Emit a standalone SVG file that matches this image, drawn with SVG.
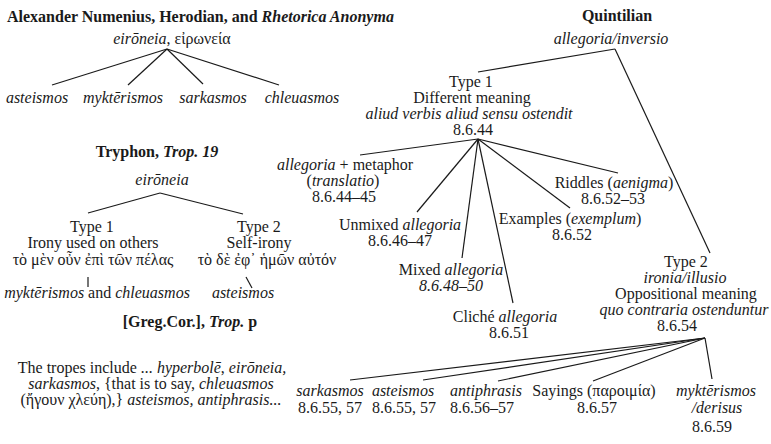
<svg xmlns="http://www.w3.org/2000/svg" width="771" height="444" viewBox="0 0 771 444">
<style>
text{font-family:"Liberation Serif","DejaVu Serif",serif;font-size:16px;fill:#1a1a1a}
.c{text-anchor:middle}
.b{font-weight:bold}
.i{font-style:italic}
.l line{stroke:#1a1a1a;stroke-width:1.2}
</style>
<rect width="771" height="444" fill="#fff"/>
<g class="l" id="connectors">
<line x1="167" y1="49" x2="52" y2="85"/>
<line x1="167" y1="49" x2="128" y2="85"/>
<line x1="167" y1="49" x2="203" y2="84"/>
<line x1="167" y1="49" x2="279" y2="85"/>
<line x1="160" y1="193" x2="88" y2="213"/>
<line x1="160" y1="193" x2="243" y2="214"/>
<line x1="88" y1="277" x2="88" y2="287"/>
<line x1="246" y1="277" x2="252" y2="288"/>
<line x1="615" y1="49" x2="478" y2="72"/>
<line x1="615" y1="49" x2="710" y2="253"/>
<line x1="478" y1="139" x2="360" y2="155"/>
<line x1="478" y1="139" x2="417" y2="212"/>
<line x1="478" y1="139" x2="462" y2="258"/>
<line x1="478" y1="139" x2="513" y2="303"/>
<line x1="478" y1="139" x2="570" y2="208"/>
<line x1="478" y1="139" x2="618" y2="173"/>
<line x1="705" y1="338" x2="350" y2="380"/>
<line x1="705" y1="338" x2="423" y2="380"/>
<line x1="705" y1="338" x2="498" y2="381"/>
<line x1="705" y1="338" x2="593" y2="381"/>
<line x1="705" y1="338" x2="712" y2="379"/>
</g>
<g id="alexander">
<text x="7" y="22" class="b">Alexander Numenius, Herodian, and <tspan class="i">Rhetorica Anonyma</tspan></text>
<text x="172" y="44" class="c"><tspan class="i">eirōneia</tspan>, εἰρωνεία</text>
</g>
<g id="a-asteismos"><text x="37" y="103" class="c i">asteismos</text></g>
<g id="a-mykterismos"><text x="123" y="103" class="c i">myktērismos</text></g>
<g id="a-sarkasmos"><text x="213" y="103" class="c i">sarkasmos</text></g>
<g id="a-chleuasmos"><text x="302" y="103" class="c i">chleuasmos</text></g>
<g id="tryphon">
<text x="157" y="157" class="c b">Tryphon, <tspan class="i">Trop. 19</tspan></text>
<text x="162" y="185" class="c i">eirōneia</text>
</g>
<g id="t-type1">
<text x="92" y="232" class="c">Type 1</text>
<text x="93" y="248" class="c">Irony used on others</text>
<text x="93" y="265" class="c">τὸ μὲν οὖν ἐπὶ τῶν πέλας</text>
</g>
<g id="t-type2">
<text x="259" y="232" class="c">Type 2</text>
<text x="259" y="248" class="c">Self-irony</text>
<text x="267" y="265" class="c">τὸ δὲ ἐφ᾽ ἡμῶν αὐτόν</text>
</g>
<g id="t-myk"><text x="97" y="298" class="c"><tspan class="i">myktērismos</tspan> and <tspan class="i">chleuasmos</tspan></text></g>
<g id="t-ast"><text x="243" y="298" class="c i">asteismos</text></g>
<g id="greg">
<text x="190" y="327" class="c b">[Greg.Cor.], <tspan class="i">Trop.</tspan> p</text>
<text x="152" y="373" class="c">The tropes include <tspan class="i">... hyperbolē</tspan>, <tspan class="i">eirōneia,</tspan></text>
<text x="151" y="389" class="c"><tspan class="i">sarkasmos</tspan>, {that is to say, <tspan class="i">chleuasmos</tspan></text>
<text x="151" y="405" class="c">(ἤγουν χλεύη),} <tspan class="i">asteismos, antiphrasis...</tspan></text>
</g>
<g id="quintilian">
<text x="617" y="21" class="c b">Quintilian</text>
<text x="611" y="44" class="c i">allegoria/inversio</text>
</g>
<g id="q-type1">
<text x="471" y="87" class="c">Type 1</text>
<text x="472" y="103" class="c">Different meaning</text>
<text x="469" y="119" class="c i">aliud verbis aliud sensu ostendit</text>
<text x="473" y="135" class="c">8.6.44</text>
</g>
<g id="q-metaphor">
<text x="345" y="170" class="c"><tspan class="i">allegoria</tspan> + metaphor</text>
<text x="343" y="186" class="c">(<tspan class="i">translatio</tspan>)</text>
<text x="344" y="202" class="c">8.6.44–45</text>
</g>
<g id="q-unmixed">
<text x="400" y="230" class="c">Unmixed <tspan class="i">allegoria</tspan></text>
<text x="400" y="246" class="c">8.6.46–47</text>
</g>
<g id="q-mixed">
<text x="451" y="275" class="c">Mixed <tspan class="i">allegoria</tspan></text>
<text x="451" y="291" class="c i">8.6.48–50</text>
</g>
<g id="q-cliche">
<text x="505" y="322" class="c">Cliché <tspan class="i">allegoria</tspan></text>
<text x="509" y="338" class="c">8.6.51</text>
</g>
<g id="q-examples">
<text x="570" y="224" class="c">Examples (<tspan class="i">exemplum</tspan>)</text>
<text x="572" y="240" class="c">8.6.52</text>
</g>
<g id="q-riddles">
<text x="614" y="188" class="c">Riddles (<tspan class="i">aenigma</tspan>)</text>
<text x="613" y="204" class="c">8.6.52–53</text>
</g>
<g id="q-type2">
<text x="686" y="267" class="c">Type 2</text>
<text x="685" y="283" class="c i">ironia/illusio</text>
<text x="686" y="299" class="c">Oppositional meaning</text>
<text x="684" y="315" class="c i">quo contraria ostenduntur</text>
<text x="677" y="331" class="c">8.6.54</text>
</g>
<g id="q-sarkasmos">
<text x="330" y="396" class="c i">sarkasmos</text>
<text x="330" y="413" class="c">8.6.55, 57</text>
</g>
<g id="q-asteismos">
<text x="403" y="396" class="c i">asteismos</text>
<text x="404" y="413" class="c">8.6.55, 57</text>
</g>
<g id="q-antiphrasis">
<text x="486" y="396" class="c i">antiphrasis</text>
<text x="482" y="413" class="c">8.6.56–57</text>
</g>
<g id="q-sayings">
<text x="594" y="396" class="c">Sayings (παροιμία)</text>
<text x="597" y="413" class="c">8.6.57</text>
</g>
<g id="q-myk">
<text x="716" y="396" class="c i">myktērismos</text>
<text x="717" y="413" class="c i">/derisus</text>
<text x="712" y="432" class="c">8.6.59</text>
</g>
</svg>
